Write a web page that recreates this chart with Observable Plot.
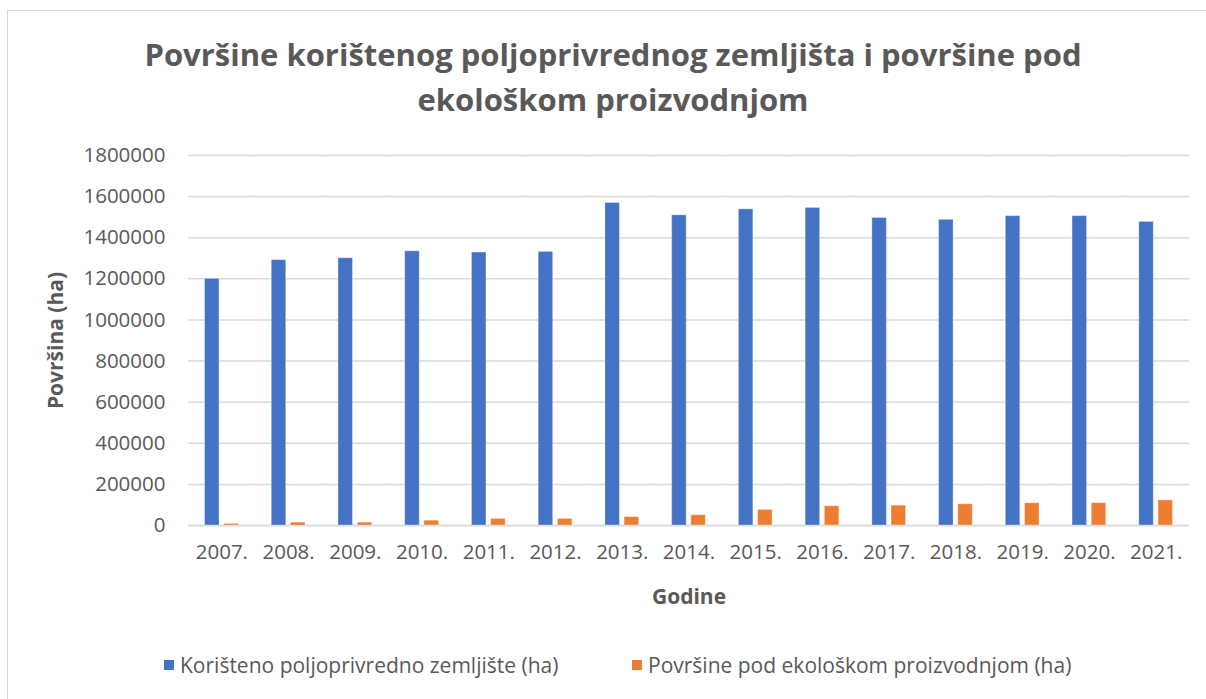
<!DOCTYPE html>
<html><head><meta charset="utf-8">
<script src="https://cdn.jsdelivr.net/npm/d3@7"></script>
<script src="https://cdn.jsdelivr.net/npm/@observablehq/plot@0.6"></script>
<style>
body{margin:0;background:#fff;font-family:"Open Sans",sans-serif;}
#wrap{position:relative;width:1206px;height:699px;overflow:hidden;background:#fff;}
#frame{position:absolute;left:7px;top:10px;width:1300px;height:800px;border:1.5px solid #d9d9d9;box-sizing:border-box;}
#title{position:absolute;left:0;top:32px;width:1226px;text-align:center;font-weight:bold;font-size:31px;line-height:45px;color:#595959;}
#chart{position:absolute;left:0;top:140px;}
#legend{position:absolute;left:0;top:650px;width:1206px;height:30px;font-size:21px;color:#595959;}
.li{position:absolute;top:0;display:flex;align-items:center;height:30px;white-space:nowrap;}
.sw{width:10px;height:10px;margin-right:6px;}
g[aria-label="y-axis label"] text, g[aria-label="fx-axis label"] text{font-weight:bold;font-size:21px;}
</style>
</head><body>
<div id="wrap">
  <div id="frame"></div>
  <div id="title">Površine korištenog poljoprivrednog zemljišta i površine pod<br>ekološkom proizvodnjom</div>
  <div id="chart"></div>
  <div id="legend"></div>
</div>
<script>
const years = ["2007.","2008.","2009.","2010.","2011.","2012.","2013.","2014.","2015.","2016.","2017.","2018.","2019.","2020.","2021."];
const koristeno = [1200000,1291000,1300000,1334000,1328000,1331000,1569000,1509000,1538000,1545000,1496000,1487000,1505000,1505000,1477000];
const ekoloska = [7500,14200,14200,23300,32000,31900,40700,50100,75900,93600,96600,103200,108100,108600,121900];
const seriesNames = ["Korišteno poljoprivredno zemljište (ha)", "Površine pod ekološkom proizvodnjom (ha)"];
const seriesColors = ["#4472C4", "#ED7D31"];
const yTicks = [0,200000,400000,600000,800000,1000000,1200000,1400000,1600000,1800000];

const rows = [];
years.forEach((yr, i) => {
  rows.push({year: yr, series: seriesNames[0], value: koristeno[i]});
  rows.push({year: yr, series: seriesNames[1], value: ekoloska[i]});
});

const chart = Plot.plot({
  width: 1206,
  height: 475,
  marginLeft: 188,
  marginRight: 17,
  marginTop: 15,
  marginBottom: 90,
  style: {fontFamily: "'Open Sans', sans-serif", fontSize: "20.5px", color: "#595959", background: "transparent"},
  fx: {domain: years, padding: 0, round: false},
  x: {domain: seriesNames, axis: null, paddingInner: 0.245, paddingOuter: 0.86, round: false},
  y: {domain: [0, 1800000]},
  color: {domain: seriesNames, range: seriesColors},
  marks: [
    Plot.gridY(yTicks, {stroke: "#d9d9d9", strokeOpacity: 1, strokeWidth: 1.5}),
    Plot.ruleY([0], {stroke: "#d9d9d9", strokeWidth: 1.5}),
    Plot.barY(rows, {fx: "year", x: "series", y: "value", fill: "series", stroke: "white", strokeOpacity: 0.35, strokeWidth: 1}),
    Plot.axisY(yTicks, {tickSize: 0, tickPadding: 23, tickFormat: d => String(d), label: "Površina (ha)", labelArrow: "none", labelAnchor: "center", labelOffset: 140, fill: "#595959"}),
    Plot.axisFx({anchor: "bottom", tickSize: 0, tickPadding: 19, label: "Godine", labelArrow: "none", labelAnchor: "center", labelOffset: 78, fill: "#595959"})
  ]
});
document.getElementById("chart").appendChild(chart);

const legend = document.getElementById("legend");
const lx = [164, 632];
seriesNames.forEach((n, i) => {
  const d = document.createElement("div");
  d.className = "li";
  d.style.left = lx[i] + "px";
  d.innerHTML = `<span class="sw" style="background:${seriesColors[i]}"></span><span>${n}</span>`;
  legend.appendChild(d);
});
</script>
</body></html>
